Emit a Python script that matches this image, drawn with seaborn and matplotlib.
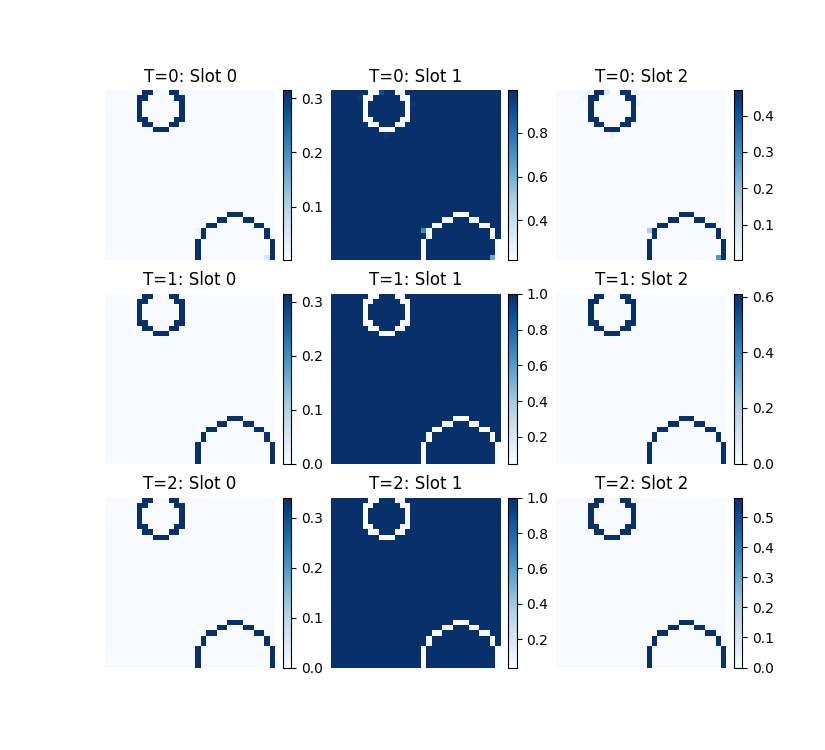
import numpy as np
import pandas as pd
import seaborn as sns
import matplotlib
matplotlib.use("Agg")
import matplotlib.pyplot as plt

# -----------------------------
GRID = 32
steps = [0, 1, 2]
slots = [0, 1, 2]

# outline cells of the two circles: row -> columns
small_ring = {0: [7, 8, 12, 13], 1: [6, 7, 13, 14], 2: [6, 14], 3: [6, 14], 4: [6, 14],
              5: [6, 7, 13, 14], 6: [7, 8, 12, 13], 7: [9, 10, 11]}
big_ring = {23: [23, 24, 25], 24: [21, 22, 26, 27], 25: [19, 20, 28, 29], 26: [18, 30],
            27: [18, 30], 28: [17, 31], 29: [17, 31], 30: [17, 31], 31: [17, 31]}

# mask value on the outline and everywhere else, [step][slot]
ring_vals = [[0.315, 0.22, 0.47],
             [0.315, 0.05, 0.61],
             [0.34, 0.04, 0.565]]
rest_vals = [[0.002, 0.995, 0.004],
             [0.0, 1.0, 0.0],
             [0.0, 1.0, 0.0]]

# odd cells at T=0: (row, col, slot 0, slot 1, slot 2)
odd_cells_t0 = [(31, 30, 0.05, 0.62, 0.28),
                (26, 17, 0.02, 0.72, 0.16),
                (0, 9, 0.02, 0.90, 0.06),
                (1, 5, 0.004, 0.97, 0.03),
                (2, 15, 0.004, 0.97, 0.03),
                (8, 10, 0.004, 0.97, 0.03)]


def panel(t, s):
    grid = np.full((GRID, GRID), rest_vals[t][s])
    for ring in (small_ring, big_ring):
        for r, cols in ring.items():
            grid[r, cols] = ring_vals[t][s]
    if t == 0:
        for r, c, *v in odd_cells_t0:
            grid[r, c] = v[s]
    return pd.DataFrame(grid)


fig, axes = plt.subplots(3, 3, figsize=(8.25, 7.5), dpi=100)

for t in steps:
    for s in slots:
        ax = axes[t, s]
        sns.heatmap(panel(t, s), ax=ax, cmap="Blues", square=True,
                    xticklabels=False, yticklabels=False,
                    cbar_kws={"fraction": 0.046, "pad": 0.04})
        ax.collections[0].colorbar.outline.set_linewidth(0.8)
        ax.set_title(f"T={t}: Slot {s}")

fig.savefig("out.png", dpi=100)
